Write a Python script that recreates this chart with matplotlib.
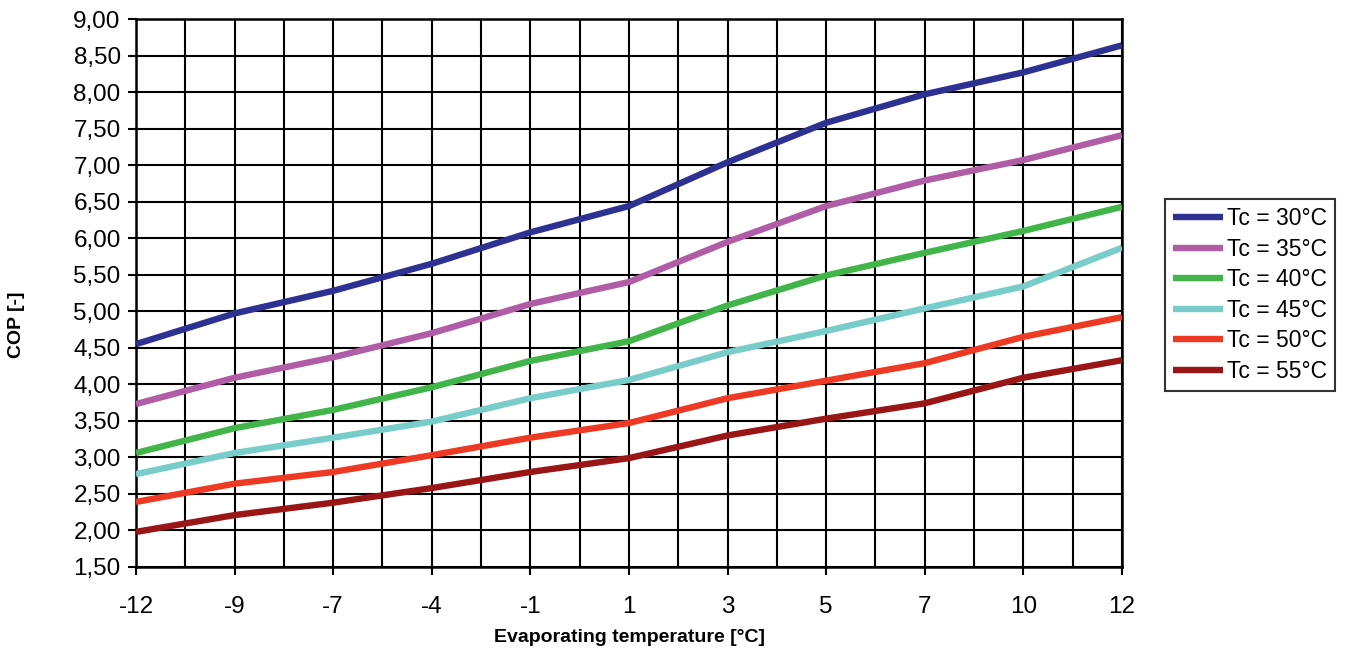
import matplotlib
matplotlib.use("Agg")
import matplotlib.pyplot as plt
import numpy as np
from matplotlib.ticker import FuncFormatter, MultipleLocator

plt.rcParams['font.family'] = ['Liberation Sans', 'DejaVu Sans']

# evaporating temperature categories (evenly spaced on the chart)
evap_temps = ['-12', '-9', '-7', '-4', '-1', '1', '3', '5', '7', '10', '12']

# COP per condensing temperature
cop_30 = [4.55, 4.97, 5.28, 5.65, 6.08, 6.44, 7.04, 7.58, 7.97, 8.27, 8.64]
cop_35 = [3.73, 4.09, 4.37, 4.70, 5.10, 5.40, 5.95, 6.44, 6.79, 7.07, 7.41]
cop_40 = [3.06, 3.40, 3.65, 3.96, 4.32, 4.59, 5.08, 5.49, 5.80, 6.10, 6.43]
cop_45 = [2.77, 3.06, 3.27, 3.49, 3.81, 4.06, 4.44, 4.73, 5.04, 5.34, 5.87]
cop_50 = [2.39, 2.64, 2.80, 3.03, 3.27, 3.47, 3.81, 4.05, 4.29, 4.65, 4.92]
cop_55 = [1.98, 2.21, 2.38, 2.58, 2.80, 2.99, 3.30, 3.53, 3.74, 4.09, 4.33]

labels = ['Tc = 30°C', 'Tc = 35°C', 'Tc = 40°C', 'Tc = 45°C', 'Tc = 50°C', 'Tc = 55°C']
colors = ['#2E3192', '#B05CA6', '#41B549', '#78CDCB', '#EE3A24', '#9A1616']

fig = plt.figure(figsize=(13.45, 6.49), dpi=100)
ax = fig.add_axes([0.1011, 0.1264, 0.7331, 0.8443])

x = np.arange(len(evap_temps))
for vals, lab, col in zip([cop_30, cop_35, cop_40, cop_45, cop_50, cop_55], labels, colors):
    ax.plot(x, vals, color=col, linewidth=4.6, label=lab, solid_capstyle='butt', zorder=3)

ax.set_xlim(0, len(evap_temps) - 1)
ax.set_ylim(1.5, 9.0)
ax.set_xticks(x)
ax.set_xticklabels(evap_temps)
ax.xaxis.set_minor_locator(MultipleLocator(0.5))
ax.yaxis.set_major_locator(MultipleLocator(0.5))
ax.yaxis.set_major_formatter(FuncFormatter(lambda v, p: f"{v:.2f}".replace('.', ',')))

ax.grid(True, which='both', axis='x', color='black', linewidth=1.5)
ax.grid(True, which='major', axis='y', color='black', linewidth=1.5)
ax.set_axisbelow(True)
ax.tick_params(axis='both', which='major', direction='out', length=6, width=1.5,
               labelsize=17.5, colors='black', pad=5)
ax.tick_params(axis='x', which='major', pad=15)
ax.tick_params(axis='x', which='minor', length=0)
for s in ax.spines.values():
    s.set_linewidth(1.8)
    s.set_color('black')

# axis titles placed on the figure
fig.text(629 / 1345, 1 - 638 / 649, 'Evaporating temperature [°C]', fontsize=14,
         fontweight='bold', ha='center', va='center')
fig.text(0.012, 0.5, 'COP [-]', fontsize=14, fontweight='bold', rotation=90,
         ha='center', va='center')

leg = fig.legend(loc='upper left', bbox_to_anchor=(1165 / 1345, 1 - 199 / 649),
                 fontsize=16.5, frameon=True, fancybox=False, edgecolor='black',
                 handlelength=2.2, handletextpad=0.15, labelspacing=0.33,
                 borderpad=0.35, borderaxespad=0)
leg.get_frame().set_linewidth(1.5)
for h in leg.get_lines():
    h.set_linewidth(4.6)

fig.savefig('out.png', dpi=100)
